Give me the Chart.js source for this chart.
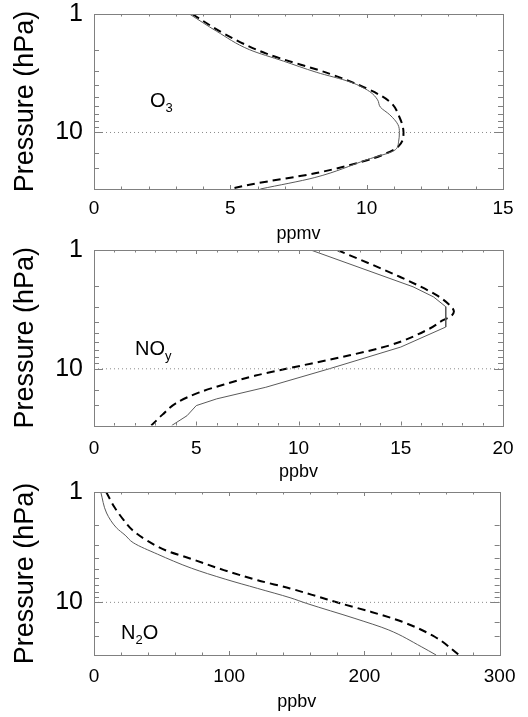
<!DOCTYPE html>
<html>
<head>
<meta charset="utf-8">
<script src="https://cdn.jsdelivr.net/npm/chart.js@4.4.1/dist/chart.umd.min.js"></script>
<style>
  html, body { margin: 0; padding: 0; background: #fff; }
  body { position: relative; width: 528px; height: 717px; overflow: hidden; }
  .panel { position: absolute; left: 0; width: 528px; height: 250px; }
  .panel canvas { display: block; }
</style>
</head>
<body>
<div class="panel" style="top:0px"><canvas id="o3Chart" width="528" height="250"></canvas></div>
<div class="panel" style="top:236px"><canvas id="noyChart" width="528" height="250"></canvas></div>
<div class="panel" style="top:467px"><canvas id="n2oChart" width="528" height="250"></canvas></div>
<script>
// values (pressure in hPa, mixing ratio on x)
const o3SolidPressure = [1, 1.4, 2.0, 2.5, 3.1, 3.75, 4.5, 5.3, 6.1, 7.1, 8.6, 10, 12, 14, 17, 24, 30];
const o3Solid = [3.5, 4.5, 5.7, 6.95, 8.15, 9.4, 10.1, 10.4, 10.5, 10.85, 11.15, 11.2, 11.17, 11.05, 10.0, 8.1, 6.1];
const o3DashPressure = [1, 1.5, 2.15, 3.2, 4.25, 5.5, 7.4, 10, 13.2, 15.4, 17.6, 22, 27.6, 30];
const o3Dashed = [3.6, 4.85, 6.3, 8.65, 10.0, 10.85, 11.2, 11.35, 11.15, 10.6, 9.85, 8.15, 5.7, 5.0];

const noySolidPressure = [1, 2.04, 2.48, 3.0, 4.45, 6.56, 10, 14.3, 17.9, 20.4, 24.8, 30];
const noySolid = [10.6, 15.6, 16.6, 17.2, 17.2, 15.0, 11.5, 8.4, 6.0, 5.0, 4.55, 3.8];
const noyDashPressure = [1, 1.68, 2.4, 2.92, 3.3, 3.66, 3.9, 4.6, 6.35, 7.7, 10, 11.4, 13.4, 15.8, 19.5, 24.3, 30];
const noyDashed = [11.9, 14.95, 16.75, 17.4, 17.6, 17.4, 17.07, 16.4, 14.46, 12.5, 9.4, 7.9, 6.45, 5.15, 4.0, 3.35, 2.8];

const n2oSolidPressure = [1, 1.55, 2.11, 2.46, 2.88, 3.66, 4.9, 6.16, 7.48, 9.08, 10.2, 14.0, 17.8, 25.2, 30];
const n2oSolid = [5, 9.3, 16.6, 23, 29, 47, 72, 97, 121, 145, 157, 193, 218, 242, 253];
const n2oDashPressure = [1, 1.39, 1.8, 2.19, 2.79, 3.42, 4.0, 5.1, 6.3, 7.48, 8.9, 10.2, 12.2, 15.0, 20.5, 30];
const n2oDashed = [9, 15.4, 22, 28, 40, 54, 71, 96, 121, 145, 166, 182, 205, 228, 252, 270];

const pressureRange = [1, 30];
const pressureLabels = [1, 10];
const refPressure = 10;

const FONT = "'Liberation Sans', Arial, Helvetica, sans-serif";

// frame, inward tick marks on all four sides, and the species label
function frameTicks(minor, major, label) {
  return {
    id: 'frameTicks',
    afterDatasetsDraw(chart) {
      const { ctx, chartArea: a, scales: { x, y } } = chart;
      ctx.save();
      ctx.strokeStyle = '#808080';
      ctx.lineWidth = 1;
      ctx.beginPath();
      y.ticks.forEach(t => {
        if (t.value <= y.min || t.value >= y.max) return;
        const py = Math.round(y.getPixelForValue(t.value)) + 0.5;
        const len = t.value === 10 ? 9 : 5;
        ctx.moveTo(a.left, py); ctx.lineTo(a.left + len, py);
        ctx.moveTo(a.right, py); ctx.lineTo(a.right - len, py);
      });
      const n = Math.round((x.max - x.min) / minor);
      for (let i = 1; i < n; i++) {
        const v = x.min + i * minor;
        const px = Math.round(x.getPixelForValue(v)) + 0.5;
        const len = v % major === 0 ? 4 : 2.5;
        ctx.moveTo(px, a.bottom); ctx.lineTo(px, a.bottom - len);
        ctx.moveTo(px, a.top); ctx.lineTo(px, a.top + len);
      }
      ctx.stroke();
      ctx.strokeRect(Math.round(a.left) + 0.5, Math.round(a.top) + 0.5, Math.round(a.width), Math.round(a.height));

      ctx.fillStyle = '#000';
      ctx.textAlign = 'left';
      ctx.textBaseline = 'alphabetic';
      let tx = a.left + label.x;
      const by = a.top + label.y;
      label.parts.forEach(([txt, sub]) => {
        ctx.font = (sub ? 13 : 20) + 'px ' + FONT;
        ctx.fillText(txt, tx, sub ? by + 5 : by);
        tx += ctx.measureText(txt).width;
      });
      ctx.restore();
    }
  };
}

function makePanel(id, cfg) {
  const toPoints = (ps, vs) => ps.map((p, i) => ({ x: vs[i], y: p }));
  const curve = cfg.smooth
    ? { cubicInterpolationMode: 'monotone' }
    : { tension: 0 };
  return new Chart(document.getElementById(id), {
    type: 'line',
    data: {
      datasets: [
        {
          data: [{ x: 0, y: refPressure }, { x: cfg.xMax, y: refPressure }],
          borderColor: '#8a8a8a',
          borderWidth: 1,
          borderDash: [1, 3],
          pointRadius: 0
        },
        Object.assign({
          data: toPoints(cfg.solidP, cfg.solidV),
          borderColor: '#5a5a5a',
          borderWidth: 1,
          pointRadius: 0
        }, cfg.solidSmooth ? { cubicInterpolationMode: 'monotone' } : { tension: 0 }),
        Object.assign({
          data: toPoints(cfg.dashP, cfg.dashV),
          borderColor: '#000',
          borderWidth: 2,
          borderDash: [8, 5],
          pointRadius: 0
        }, curve)
      ]
    },
    options: {
      indexAxis: 'y',
      responsive: false,
      animation: false,
      devicePixelRatio: 1,
      layout: { padding: { top: cfg.top, right: 25, bottom: cfg.bottom, left: 0 } },
      plugins: { legend: { display: false }, tooltip: { enabled: false } },
      scales: {
        x: {
          type: 'linear',
          min: 0,
          max: cfg.xMax,
          afterFit: s => { s.height = cfg.xHeight; },
          grid: { display: false, drawTicks: false },
          border: { display: false },
          ticks: {
            stepSize: cfg.step,
            maxRotation: 0,
            padding: cfg.tickPad,
            color: '#000',
            font: { family: FONT, size: 19, lineHeight: 1 }
          },
          title: {
            display: true,
            text: cfg.unit,
            color: '#000',
            font: { family: FONT, size: 18, lineHeight: 1 },
            padding: 0
          }
        },
        y: {
          type: 'logarithmic',
          reverse: true,
          min: pressureRange[0],
          max: pressureRange[1],
          afterFit: s => { s.width = 94; },
          grid: { display: false, drawTicks: false },
          border: { display: false },
          ticks: {
            autoSkip: false,
            padding: 11,
            color: '#000',
            font: { family: FONT, size: 25, lineHeight: 0.2 },
            callback: v => pressureLabels.includes(v) ? String(v) : ''
          },
          title: {
            display: true,
            text: 'Pressure (hPa)',
            color: '#000',
            font: { family: FONT, size: 27, lineHeight: 1 },
            padding: { top: 12.5, bottom: 0 }
          }
        }
      }
    },
    plugins: [frameTicks(cfg.minor, cfg.step, cfg.label)]
  });
}

makePanel('o3Chart', {
  solidP: o3SolidPressure, solidV: o3Solid, dashP: o3DashPressure, dashV: o3Dashed,
  xMax: 15, step: 5, minor: 1, unit: 'ppmv',
  top: 14, bottom: 6.5, xHeight: 54.5, tickPad: 10.5,
  smooth: true, solidSmooth: true,
  label: { x: 56, y: 93, parts: [['O', false], ['3', true]] }
});

makePanel('noyChart', {
  solidP: noySolidPressure, solidV: noySolid, dashP: noyDashPressure, dashV: noyDashed,
  xMax: 20, step: 5, minor: 1, unit: 'ppbv',
  top: 14, bottom: 5.2, xHeight: 55.3, tickPad: 14,
  smooth: true, solidSmooth: false,
  label: { x: 41, y: 105, parts: [['NO', false], ['y', true]] }
});

makePanel('n2oChart', {
  solidP: n2oSolidPressure, solidV: n2oSolid, dashP: n2oDashPressure, dashV: n2oDashed,
  xMax: 300, step: 100, minor: 20, unit: 'ppbv',
  top: 25, bottom: 5.7, xHeight: 56.3, tickPad: 12.5,
  smooth: true, solidSmooth: true,
  label: { x: 27, y: 147, parts: [['N', false], ['2', true], ['O', false]] }
});
</script>
</body>
</html>
